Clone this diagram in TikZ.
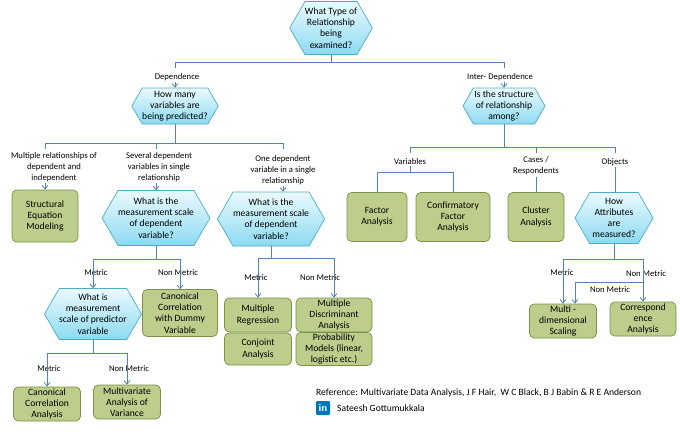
\documentclass[tikz,border=0pt]{standalone}
\usepackage{fontspec}
\setmainfont{Carlito}
\usetikzlibrary{shapes.symbols,arrows.meta}
\definecolor{hexline}{RGB}{75,172,198}
\definecolor{hextop}{RGB}{235,250,254}
\definecolor{hexbot}{RGB}{140,218,242}
\definecolor{boxline}{RGB}{122,145,70}
\definecolor{boxfill}{RGB}{188,205,140}
\definecolor{linkc}{RGB}{79,129,189}
\definecolor{linkedin}{RGB}{0,119,181}
\newcommand\boxfont{\fontsize{8.2}{9.6}\selectfont}
\newcommand\lblfont{\fontsize{7.4}{9.2}\selectfont}
\tikzset{
	sz/.style 2 args = {minimum width = #1*0.3mm, minimum height = #2*0.3mm},
	hex/.style = {signal, signal to = east and west, signal pointer angle = 120,
		draw = hexline, top color = hextop, bottom color = hexbot,
		inner sep = 0pt, align = center, font = \boxfont, line width = .6pt},
	box/.style = {rectangle, rounded corners = 4pt, draw = boxline, fill = boxfill,
		inner sep = 0pt, align = center, font = \boxfont, line width = .6pt},
	lbl/.style = {align = center, font = \lblfont, inner sep = 1pt},
	link/.style = {draw = linkc, line width = .7pt},
	arr/.style = {link, -{Straight Barb[length = 3pt, width = 5pt]}}
}
\begin{document}
\begin{tikzpicture}[x = 0.3mm, y = -0.3mm]
	\useasboundingbox (0, 0) rectangle (680, 431);
	
	% questions
	\node[hex, sz = {82}{53}] (q0) at (331, 28) {What Type of\\Relationship\\being\\examined?};
	\node[hex, sz = {81}{36}] (q1) at (175, 106) {How many\\variables are\\being predicted?};
	\node[hex, sz = {82}{36}] (q2) at (504, 106) {Is the structure\\of relationship\\among?};
	\node[hex, sz = {80}{55}] (q3) at (156, 218) {What is the\\measurement scale\\of dependent\\variable?};
	\node[hex, sz = {78}{54}] (q4) at (271, 219) {What is the\\measurement scale\\of dependent\\variable?};
	\node[hex, sz = {82}{51}] (q5) at (93, 314) {What is\\measurement\\scale of predictor\\variable};
	\node[hex, sz = {78}{51}] (q6) at (614, 218) {How\\Attributes\\are\\measured?};
	
	% techniques
	\node[box, sz = {66}{52}] (sem) at (45, 216) {Structural\\Equation\\Modeling};
	\node[box, sz = {60}{49}] (fa) at (377, 217) {Factor\\Analysis};
	\node[box, sz = {74}{49}] (cfa) at (453, 217) {Confirmatory\\Factor\\Analysis};
	\node[box, sz = {56}{49}] (ca) at (536, 217) {Cluster\\Analysis};
	\node[box, sz = {75}{47}] (ccd) at (180, 313) {Canonical\\Correlation\\with Dummy\\Variable};
	\node[box, sz = {67}{34}] (mr) at (258, 315) {Multiple\\Regression};
	\node[box, sz = {67}{32}] (cj) at (258, 349) {Conjoint\\Analysis};
	\node[box, sz = {76}{34}] (mda) at (334, 315) {Multiple\\Discriminant\\Analysis};
	\node[box, sz = {76}{33}] (pm) at (334, 349) {Probability\\Models (linear,\\logistic etc.)};
	\node[box, sz = {67}{34}] (cca) at (47, 404) {Canonical\\Correlation\\Analysis};
	\node[box, sz = {67}{34}] (mav) at (127, 402) {Multivariate\\Analysis of\\Variance};
	\node[box, sz = {67}{34}] (mds) at (563, 321) {Multi -\\dimensional\\Scaling};
	\node[box, sz = {66}{34}] (cor) at (643, 319) {Correspond\\ence\\Analysis};
	
	% labels
	\node[lbl] (l1) at (177, 77) {Dependence};
	\node[lbl] (l2) at (500, 77) {Inter- Dependence};
	\node[lbl] (l3) at (54, 167) {Multiple relationships of\\dependent and\\independent};
	\node[lbl] (l4) at (159, 167) {Several dependent\\variables in single\\relationship};
	\node[lbl] (l5) at (283, 170) {One dependent\\variable in a single\\relationship};
	\node[lbl] (l6) at (410, 162) {Variables};
	\node[lbl] (l7) at (536, 166) {Cases /\\Respondents};
	\node[lbl] (l8) at (615, 162) {Objects};
	\node[lbl] (l9) at (96, 273) {Metric};
	\node[lbl] (l10) at (178, 273) {Non Metric};
	\node[lbl] (l11) at (256, 278) {Metric};
	\node[lbl] (l12) at (320, 278) {Non Metric};
	\node[lbl] (l13) at (49, 369) {Metric};
	\node[lbl] (l14) at (129, 369) {Non Metric};
	\node[lbl] (l15) at (562, 273) {Metric};
	\node[lbl] (l16) at (646, 274) {Non Metric};
	\node[lbl] (l17) at (610, 290) {Non Metric};
	
	% junctions
	\coordinate (j0) at (331, 62);
	\coordinate (j1) at (175, 143);
	\coordinate (j2) at (504, 147);
	\coordinate (j4) at (156, 259);
	\coordinate (j5) at (271, 258);
	\coordinate (j6) at (93, 353);
	\coordinate (j7) at (614, 259);
	\coordinate (j8) at (575, 282);
	
	% connectors
	\draw[link] (q0.south) -- (j0);
	\draw[link] (q1 |- j0) -- (q2 |- j0);
	\draw[link] (q1 |- j0) -- ++(0, 6);
	\draw[link] (q2 |- j0) -- ++(0, 6);
	\draw[arr] (l1.south -| q1) -- (q1.north);
	\draw[arr] (l2.south -| q2) -- (q2.north);
	
	\draw[link] (q1.south) -- (j1);
	\draw[link] (sem |- j1) -- (l5 |- j1);
	\foreach \n in {sem, q3, l5} \draw[link] (\n |- j1) -- ++(0, 6);
	\draw[arr] (l3.south -| sem) -- (sem.north);
	\draw[arr] (l4.south -| q3) -- (q3.north);
	\draw[arr] (l5.south) -- (l5.south |- q4.north);
	
	\draw[link] (q2.south) -- (j2);
	\draw[link] (l6 |- j2) -- (l8 |- j2);
	\foreach \n in {l6, l7, l8} \draw[link] (\n |- j2) -- ++(0, 6);
	\draw[link] (l6.south) -- ++(0, 6) coordinate (j3);
	\draw[link] (fa.north) |- (j3) -| (cfa.north);
	\draw[link] (l7.south) -- (ca.north);
	\draw[link] (l8.south) -- (l8.south |- q6.north);
	
	\draw[link] (q3.south) -- (j4);
	\draw[link] (q5 |- j4) -- (ccd |- j4);
	\draw[arr] (q5 |- j4) -- (q5.north);
	\draw[arr] (ccd |- j4) -- (ccd.north);
	
	\draw[link] (q4.south) -- (j5);
	\draw[link] (mr |- j5) -- (mda |- j5);
	\draw[arr] (mr |- j5) -- (mr.north);
	\draw[arr] (mda |- j5) -- (mda.north);
	
	\draw[link] (q5.south) -- (j6);
	\draw[link] (cca |- j6) -- (mav |- j6);
	\draw[arr] (cca |- j6) -- (cca.north);
	\draw[arr] (mav |- j6) -- (mav.north);
	
	\draw[link] (q6.south) -- (j7);
	\draw[link] (mds |- j7) -- (cor |- j7);
	\draw[arr] (mds |- j7) -- (mds.north);
	\draw[arr] (cor |- j7) -- (cor.north);
	\draw[arr] (cor |- j8) -- (j8) -- (j8 |- mds.north);
	
	% footer
	\node[anchor = west, font = \fontsize{8.2}{9.6}\selectfont] (ref) at (312, 393)
	{Reference: Multivariate Data Analysis, J F Hair,\ \ W C Black, B J Babin \& R E Anderson};
	\node[fill = linkedin, text = white, rounded corners = 1pt, font = \bfseries\sffamily\small,
	inner sep = 0pt, minimum size = 14*0.3mm] (li) at (323, 408) {in};
	\node[anchor = west, font = \fontsize{8.2}{9.6}\selectfont] (name) at (333, 408) {Sateesh Gottumukkala};
\end{tikzpicture}
\end{document}
